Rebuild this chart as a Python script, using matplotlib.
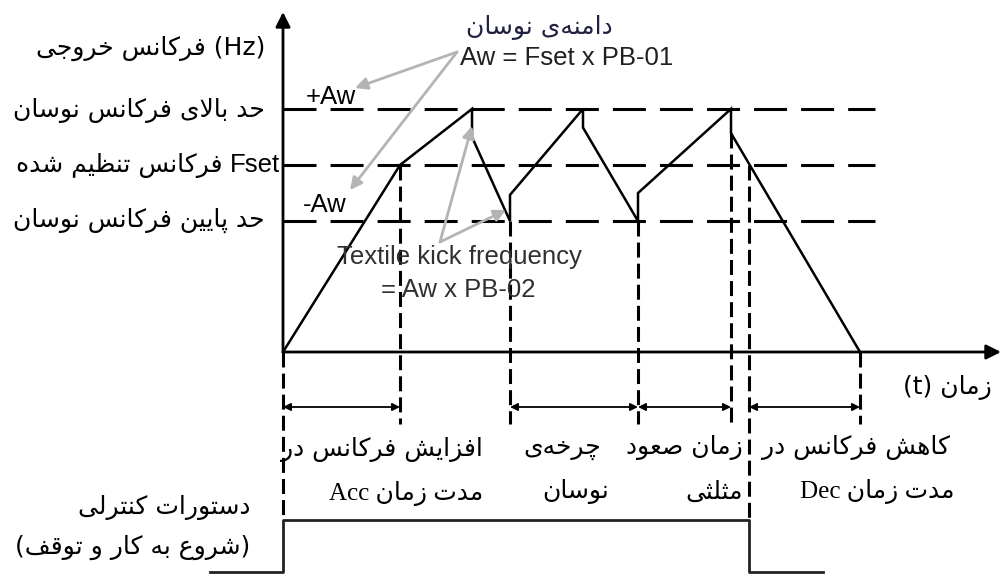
import matplotlib
matplotlib.use("Agg")
import matplotlib.pyplot as plt

# --- Persian shaping (matplotlib has no Arabic shaping) ---
FORMS = {
    'ا': ('\uFE8D', '\uFE8E', None, None),
    'آ': ('\uFE81', '\uFE82', None, None),
    'ب': ('\uFE8F', '\uFE90', '\uFE91', '\uFE92'),
    'پ': ('\uFB56', '\uFB57', '\uFB58', '\uFB59'),
    'ت': ('\uFE95', '\uFE96', '\uFE97', '\uFE98'),
    'ث': ('\uFE99', '\uFE9A', '\uFE9B', '\uFE9C'),
    'ج': ('\uFE9D', '\uFE9E', '\uFE9F', '\uFEA0'),
    'چ': ('\uFB7A', '\uFB7B', '\uFB7C', '\uFB7D'),
    'ح': ('\uFEA1', '\uFEA2', '\uFEA3', '\uFEA4'),
    'خ': ('\uFEA5', '\uFEA6', '\uFEA7', '\uFEA8'),
    'د': ('\uFEA9', '\uFEAA', None, None),
    'ذ': ('\uFEAB', '\uFEAC', None, None),
    'ر': ('\uFEAD', '\uFEAE', None, None),
    'ز': ('\uFEAF', '\uFEB0', None, None),
    'ژ': ('\uFB8A', '\uFB8B', None, None),
    'س': ('\uFEB1', '\uFEB2', '\uFEB3', '\uFEB4'),
    'ش': ('\uFEB5', '\uFEB6', '\uFEB7', '\uFEB8'),
    'ص': ('\uFEB9', '\uFEBA', '\uFEBB', '\uFEBC'),
    'ض': ('\uFEBD', '\uFEBE', '\uFEBF', '\uFEC0'),
    'ط': ('\uFEC1', '\uFEC2', '\uFEC3', '\uFEC4'),
    'ظ': ('\uFEC5', '\uFEC6', '\uFEC7', '\uFEC8'),
    'ع': ('\uFEC9', '\uFECA', '\uFECB', '\uFECC'),
    'غ': ('\uFECD', '\uFECE', '\uFECF', '\uFED0'),
    'ف': ('\uFED1', '\uFED2', '\uFED3', '\uFED4'),
    'ق': ('\uFED5', '\uFED6', '\uFED7', '\uFED8'),
    'ک': ('\uFB8E', '\uFB8F', '\uFB90', '\uFB91'),
    'گ': ('\uFB92', '\uFB93', '\uFB94', '\uFB95'),
    'ل': ('\uFEDD', '\uFEDE', '\uFEDF', '\uFEE0'),
    'م': ('\uFEE1', '\uFEE2', '\uFEE3', '\uFEE4'),
    'ن': ('\uFEE5', '\uFEE6', '\uFEE7', '\uFEE8'),
    'ه': ('\uFEE9', '\uFEEA', '\uFEEB', '\uFEEC'),
    'و': ('\uFEED', '\uFEEE', None, None),
    'ی': ('\uFBFC', '\uFBFD', '\uFBFE', '\uFBFF'),
}


def fa(text):
    """شکل‌دهی حروف فارسی و برگرداندن ترتیب برای نمایش"""
    out = []
    i = 0
    n = len(text)
    while i < n:
        c = text[i]
        if c not in FORMS:
            if c != '\u200c':
                out.append(c)
            i += 1
            continue
        prev = text[i - 1] if i > 0 else None
        join_prev = prev in FORMS and FORMS[prev][2] is not None
        if c == 'ل' and i + 1 < n and text[i + 1] == 'ا':
            out.append('\uFEFC' if join_prev else '\uFEFB')
            i += 2
            continue
        nxt = text[i + 1] if i + 1 < n else None
        join_next = FORMS[c][2] is not None and nxt in FORMS
        iso, fin, ini, med = FORMS[c]
        if join_prev and join_next:
            out.append(med)
        elif join_prev:
            out.append(fin)
        elif join_next:
            out.append(ini)
        else:
            out.append(iso)
        i += 1
    return ''.join(reversed(out))


# --- data (time in arbitrary units, frequency in % of Fset) ---
F_SET = 100
A_W = 30
levels = [F_SET + A_W, F_SET, F_SET - A_W]

wave_t = [0, 11.7, 18.9, 18.9, 22.7, 22.7, 30.0, 30.0, 35.5, 35.5, 44.8, 44.8, 57.7]
wave_f = [0, 100, 130, 115, 70, 84, 130, 120, 70, 85, 130, 117, 0]

ctrl_t = [-7.3, 0, 0, 46.6, 46.6, 54.0]
ctrl_v = [0, 0, 1, 1, 0, 0]

# (start, end) of the marked intervals
spans = [(0, 11.7), (22.7, 35.5), (35.5, 44.8), (46.6, 57.7)]

# vertical guides: (time, top frequency)
guides = [(11.7, 100), (22.7, 70), (35.5, 70), (44.8, 117), (57.7, 0)]
guides_long = [(0, 0), (46.6, 100)]

# --- pixel layout helpers ---
SX, SY = 10.0, 1.87
X0, Y0 = 283, 352
W, H = 1003, 575


def P(xp, yp):
    return (xp - X0) / SX, (Y0 - yp) / SY


fig = plt.figure(figsize=(W / 100, H / 100), dpi=100)
ax = fig.add_axes([0, 0, 1, 1])
ax.set_xlim(-X0 / SX, (W - X0) / SX)
ax.set_ylim((Y0 - H) / SY, Y0 / SY)
ax.axis('off')

FA = ['DejaVu Sans']
FA_SER = ['Liberation Serif', 'DejaVu Sans']
LAT = ['Liberation Sans', 'DejaVu Sans']
fs_fa = 18
fs_lat = 18.5

# axes with arrows
ax.annotate('', xy=P(1001, Y0), xytext=(0, 0),
            arrowprops=dict(arrowstyle='-|>', lw=2, color='black',
                            mutation_scale=22, shrinkA=0, shrinkB=0))
ax.annotate('', xy=P(X0, 12), xytext=(0, 0),
            arrowprops=dict(arrowstyle='-|>', lw=2, color='black',
                            mutation_scale=22, shrinkA=0, shrinkB=0))

# dashed level lines
t_end_dash = P(875, 0)[0]
for lv in levels:
    ax.plot([0, t_end_dash], [lv, lv], color='black', lw=2.2,
            dashes=(10.8, 4.6), dash_capstyle='butt', solid_capstyle='butt')

# waveform
ax.plot(wave_t, wave_f, color='black', lw=1.8, solid_joinstyle='miter')

# vertical dashed guides
y_span = P(0, 407)[1]
y_guide_low = P(0, 424)[1]
ctrl_base = P(0, 572)[1]
ctrl_h = P(0, 520)[1] - ctrl_base
for t, top in guides:
    ax.plot([t, t], [top, y_guide_low], color='black', lw=2.2, dashes=(4.9, 2.0))
for t, top in guides_long:
    ax.plot([t, t], [top, ctrl_base + ctrl_h], color='black', lw=2.2, dashes=(4.9, 2.0))

# interval arrows
for a, b in spans:
    ax.annotate('', xy=(b, y_span), xytext=(a, y_span),
                arrowprops=dict(arrowstyle='<|-|>', lw=1.3, color='black',
                                mutation_scale=11, shrinkA=0, shrinkB=0))

# control signal
ax.plot(ctrl_t, [ctrl_base + v * ctrl_h for v in ctrl_v], color='#222222', lw=2)

# gray pointer arrows
gray = '#b4b4b4'
for src, dst in [((457, 52), (355, 88)), ((457, 52), (350, 190)),
                 ((440, 242), (472, 126)), ((440, 242), (506, 210))]:
    ax.annotate('', xy=P(*dst), xytext=P(*src),
                arrowprops=dict(arrowstyle='-|>', lw=2, color=gray,
                                mutation_scale=18, shrinkA=0, shrinkB=0))

# left labels
ax.text(*P(265, 48), fa('فرکانس خروجی') + ' (Hz)', ha='right', va='center',
        fontsize=fs_fa, family=FA)
ax.text(*P(265, 110), fa('حد بالای فرکانس نوسان'), ha='right', va='center',
        fontsize=fs_fa, family=FA)
ax.text(*P(222, 165), fa('فرکانس تنظیم شده'), ha='right', va='center',
        fontsize=fs_fa, family=FA)
ax.text(*P(280, 165), 'Fset', ha='right', va='center', fontsize=fs_lat, family=LAT)
ax.text(*P(265, 220), fa('حد پایین فرکانس نوسان'), ha='right', va='center',
        fontsize=fs_fa, family=FA)

ax.text(*P(306, 97), '+Aw', ha='left', va='center', fontsize=fs_lat, family=LAT)
ax.text(*P(303, 205), '-Aw', ha='left', va='center', fontsize=fs_lat, family=LAT)

ax.text(*P(539, 27), fa('دامنه\u200cی نوسان'), ha='center', va='center',
        fontsize=fs_fa, family=FA, color='#202040')
ax.text(*P(460, 58), 'Aw = Fset x PB-01', ha='left', va='center',
        fontsize=fs_lat, family=LAT, color='#202020')
ax.text(*P(459, 257), 'Textile kick frequency', ha='center', va='center',
        fontsize=fs_lat, family=LAT, color='#303030')
ax.text(*P(458, 290), '= Aw x PB-02', ha='center', va='center',
        fontsize=fs_lat, family=LAT, color='#303030')

ax.text(*P(992, 387), '(t) ' + fa('زمان'), ha='right', va='center',
        fontsize=fs_fa, family=FA)

# interval labels
ax.text(*P(483, 450), fa('افزایش فرکانس در'), ha='right', va='center',
        fontsize=fs_fa, family=FA)
ax.text(*P(483, 494), 'Acc ' + fa('مدت زمان'), ha='right', va='center',
        fontsize=fs_fa, family=FA_SER)
ax.text(*P(562, 448), fa('چرخه\u200cی'), ha='center', va='center',
        fontsize=fs_fa, family=FA)
ax.text(*P(576, 492), fa('نوسان'), ha='center', va='center',
        fontsize=fs_fa, family=FA)
ax.text(*P(743, 448), fa('زمان صعود'), ha='right', va='center',
        fontsize=fs_fa, family=FA)
ax.text(*P(743, 492), fa('مثلثی'), ha='right', va='center',
        fontsize=fs_fa, family=FA)
ax.text(*P(950, 448), fa('کاهش فرکانس در'), ha='right', va='center',
        fontsize=fs_fa, family=FA)
ax.text(*P(955, 492), 'Dec ' + fa('مدت زمان'), ha='right', va='center',
        fontsize=fs_fa, family=FA_SER)

ax.text(*P(250, 508), fa('دستورات کنترلی'), ha='right', va='center',
        fontsize=fs_fa, family=FA)
ax.text(*P(250, 547), '(' + fa('شروع به کار و توقف') + ')', ha='right', va='center',
        fontsize=fs_fa, family=FA)

fig.savefig('out.png', dpi=100)
